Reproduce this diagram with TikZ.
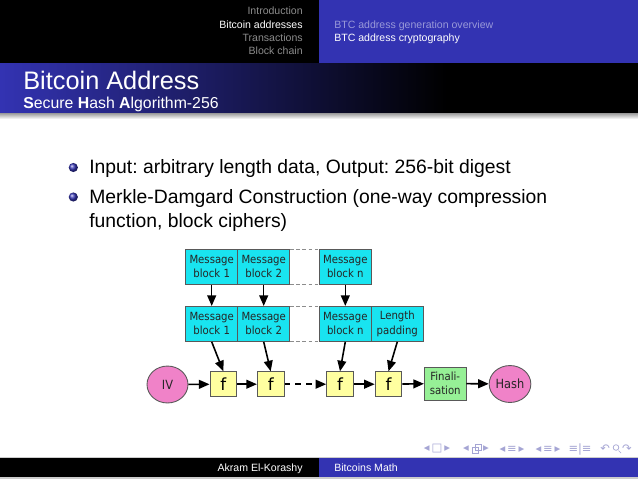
\documentclass[tikz,border=0pt]{standalone}
\usepackage{fontspec}
\setmainfont{Liberation Sans}
\newfontfamily\dvc{DejaVu Sans Condensed}
\newfontfamily\dv{DejaVu Sans}
\usetikzlibrary{arrows.meta,shapes.geometric}
\frenchspacing
\definecolor{bblue}{rgb}{0.2,0.2,0.7}
\definecolor{navc}{RGB}{165,165,212}
\definecolor{mcyan}{RGB}{25,228,240}
\definecolor{fyel}{RGB}{255,255,160}
\definecolor{fgreen}{RGB}{150,240,150}
\definecolor{fpink}{RGB}{240,130,200}
\pgfdeclarehorizontalshading{titleshade}{100bp}{color(0bp)=(bblue); color(25bp)=(bblue); color(60bp)=(black); color(100bp)=(black)}
\tikzset{
  hdr/.style={font=\fontsize{6}{7}\selectfont, inner sep=0pt},
  msg/.style={draw=black!65, line width=0.5pt, fill=mcyan, minimum width=29.57pt, minimum height=19.9pt, inner sep=0pt, align=center, font=\dvc\fontsize{6.4}{8}\selectfont, text=black!85},
  fbox/.style={draw=black!65, line width=0.5pt, fill=fyel, minimum width=15.2pt, minimum height=14.2pt, inner sep=0pt, font=\dv\fontsize{9.5}{9.5}\selectfont},
  finbox/.style={draw=black!65, line width=0.5pt, fill=fgreen, minimum width=23.7pt, minimum height=18.8pt, inner sep=0pt, align=center, font=\dvc\fontsize{6.4}{8}\selectfont, text=black!85},
  ell/.style={ellipse, draw=black!65, line width=0.5pt, fill=fpink, minimum width=23.3pt, minimum height=21pt, inner sep=0pt, font=\dvc\fontsize{7.2}{8}\selectfont, text=black!85},
  arr/.style={line width=0.9pt, -{Triangle[length=6pt,width=5pt]}},
  thindash/.style={draw=black!45, line width=0.4pt, dash pattern=on 2pt off 1.5pt},
  body/.style={font=\fontsize{11}{13.6}\selectfont, inner sep=0pt, anchor=base west},
}
\begin{document}
\begin{tikzpicture}[x=0.5687pt,y=-0.5687pt]
\useasboundingbox (0,0) rectangle (638,479);
\fill[white] (0,0) rectangle (638,479);
% headline
\fill[black] (0,0) rectangle (319,63);
\fill[bblue] (319,0) rectangle (638,63);
\node[hdr, anchor=base east, text=white!55!black] (s1) at (303,14.5) {Introduction};
\node[hdr, anchor=base east, text=white] (s2) at (303,28) {Bitcoin addresses};
\node[hdr, anchor=base east, text=white!55!black] (s3) at (303,41) {Transactions};
\node[hdr, anchor=base east, text=white!55!black] (s4) at (303,54.5) {Block chain};
\node[hdr, anchor=base west, text=white!50!bblue] (ss1) at (334,28) {BTC address generation overview};
\node[hdr, anchor=base west, text=white] (ss2) at (334,41) {BTC address cryptography};
% frame title
\shade[shading=titleshade] (0,63) rectangle (638,113);
\shade[top color=black!40, bottom color=white] (0,113) rectangle (638,119);
\node[anchor=base west, inner sep=0pt, text=white, font=\fontsize{14.4}{17}\selectfont] (ttl) at (23,89) {Bitcoin Address};
\node[anchor=base west, inner sep=0pt, text=white, font=\fontsize{9}{11}\selectfont] (sttl) at (23,108) {\textbf{S}ecure \textbf{H}ash \textbf{A}lgorithm-256};
% bullets
\shade[ball color=bblue] (73.3,167.5) circle (2.6pt);
\shade[ball color=bblue] (73.3,197) circle (2.6pt);
\node[body] (b1) at (89,173.5) {Input: arbitrary length data, Output: 256-bit digest};
\node[body] (b2) at (89,203) {Merkle-Damgard Construction (one-way compression};
\node[body] (b3) at (89,227) {function, block ciphers)};
% diagram
\node[msg] (mA1) at (211.7,266.8) {Message\\block 1};
\node[msg] (mA2) at (263.7,266.8) {Message\\block 2};
\node[msg] (mAn) at (345.3,266.8) {Message\\block n};
\node[msg] (mB1) at (211.7,323.9) {Message\\block 1};
\node[msg] (mB2) at (263.7,323.9) {Message\\block 2};
\node[msg] (mBn) at (345.3,323.9) {Message\\block n};
\node[msg] (mBp) at (397.3,323.9) {Length\\padding};
\draw[thindash] (mA2.north east) -- (mAn.north west);
\draw[thindash] (mA2.south east) -- (mAn.south west);
\draw[thindash] (mB2.north east) -- (mBn.north west);
\draw[thindash] (mB2.south east) -- (mBn.south west);
\node[fbox] (f1) at (223.3,384.2) {f};
\node[fbox] (f2) at (270.7,384.2) {f};
\node[fbox] (f3) at (340,384.2) {f};
\node[fbox] (f4) at (388.5,384.2) {f};
\node[finbox] (fin) at (445.2,383.5) {Finali-\\sation};
\node[ell] (iv) at (167.5,384.5) {IV};
\node[ell, minimum width=23.7pt] (hash) at (510,384) {Hash};
\draw[arr] (mA1.south) -- (mB1.north);
\draw[arr] (mA2.south) -- (mB2.north);
\draw[arr] (mAn.south) -- (mBn.north);
\draw[arr] (mB1.south) -- (f1.north);
\draw[arr] (mB2.south) -- (f2.north);
\draw[arr] (mBn.south) -- (f3.north);
\draw[arr] (mBp.south) -- (f4.north);
\draw[arr] (iv) -- (f1);
\draw[arr] (f1) -- (f2);
\draw[arr, dash pattern=on 3.4pt off 2.8pt] (f2) -- (f3);
\draw[arr] (f3) -- (f4);
\draw[arr] (f4) -- (fin);
\draw[arr] (fin) -- (hash);
% navigation symbols
\begin{scope}[text=navc, font=\dv\fontsize{6.5}{6.5}\selectfont]
\node[inner sep=0pt] (n1) at (437,449) {◂\,□\,▸};
\node[inner sep=0pt] (n2) at (476,449) {◂\hspace{8pt}▸};
\draw[navc, line width=0.4pt] (472,447) rectangle (478,453) (475,444) rectangle (481,450);
\node[inner sep=0pt] (n3) at (512,449) {◂\,≡\,▸};
\node[inner sep=0pt] (n4) at (548,449) {◂\,≡\,▸};
\node[inner sep=0pt] (n5) at (580,449) {≡|≡};
\node[inner sep=0pt] (n6) at (616,449) {↶\hspace{7pt}↷};
\draw[navc, line width=0.4pt] (616,447.5) circle (1.6pt) (618.5,450.5) -- (621,453);
\end{scope}
% footline
\fill[black!20] (0,456.5) rectangle (638,458);
\fill[black] (0,458) rectangle (319,477);
\fill[bblue] (319,458) rectangle (638,477);
\fill[black!20] (0,477) rectangle (638,479);
\node[hdr, anchor=base east, text=white] (fa) at (303,471.5) {Akram El-Korashy};
\node[hdr, anchor=base west, text=white] (ft) at (334,471.5) {Bitcoins Math};
\end{tikzpicture}
\end{document}
